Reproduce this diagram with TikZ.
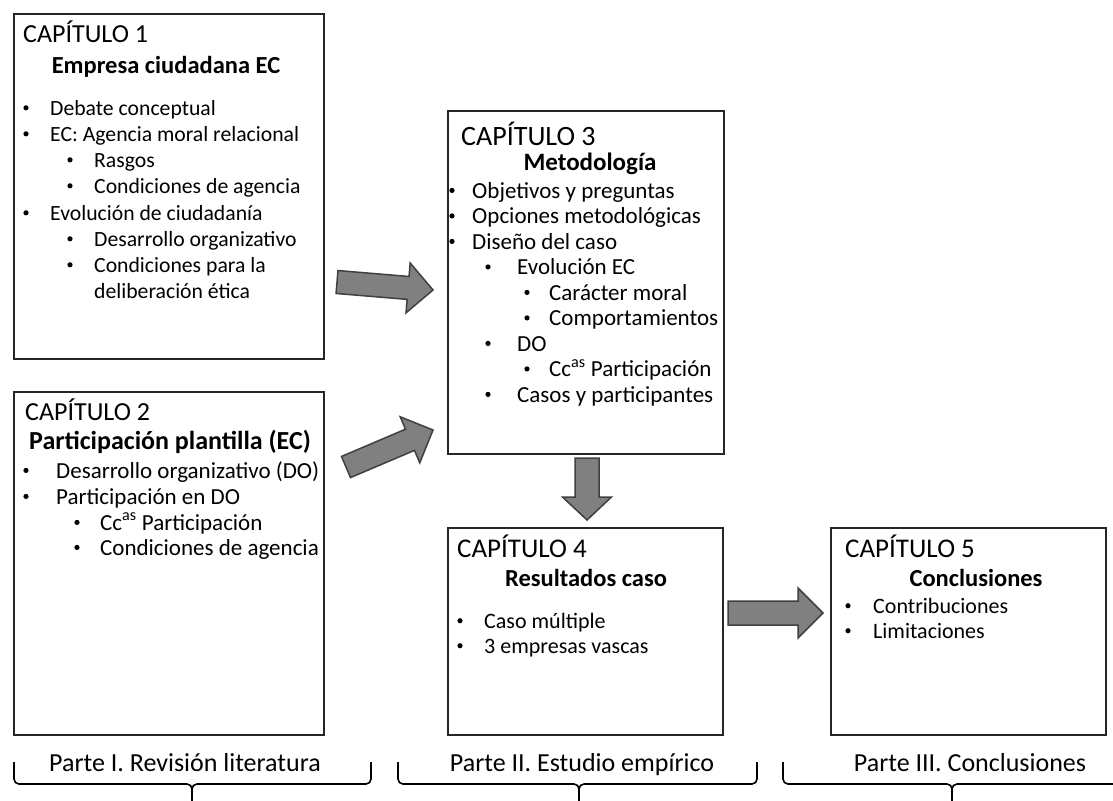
\documentclass[tikz,border=0pt]{standalone}
\usepackage{fontspec}
\setmainfont{Carlito}
\usetikzlibrary{calc}

\newcounter{ln}
\newcommand{\fs}[1]{\fontsize{#1}{#1}\selectfont}

\tikzset{
  box/.style={draw=black!85, line width=1.6pt, fill=white, rectangle,
    inner sep=0pt, anchor=north west},
  blk/.style={fill={rgb,255:red,128;green,128;blue,128},
    draw={rgb,255:red,64;green,64;blue,64}, line width=1.5pt, line join=miter},
  brace/.style={draw=black, line width=1.6pt, rounded corners=5pt},
  txt/.style={inner sep=0pt, text=black},
  dot/.style={circle, fill=black, inner sep=0pt, minimum size=5.2pt},
}

% chapter frame: name, left, top, width, height
\newcommand{\chapbox}[5]{\node[box, minimum width=#4pt, minimum height=#5pt] (#1) at (#2,#3) {};}

% bulleted line: size, bullet x, text x, baseline y, text
\newcommand{\itm}[5]{%
  \stepcounter{ln}\edef\lnname{\arabic{ln}}%
  \node[dot] (b\lnname) at (#2,#4-0.33*#1) {};
  \node[txt, anchor=base west] (t\lnname) at (#3,#4) {\fs{#1}#5};}

% block arrow from tail to tip: tail, tip, half shaft, half head, head length
\newcommand{\blockarrow}[5]{%
  \coordinate (#1h) at ($(#2)!#5!(#1)$);
  \draw[blk] ($(#1)!#3!90:(#2)$) -- ($(#1h)!#3!90:(#2)$) -- ($(#1h)!#4!90:(#2)$)
    -- (#2) -- ($(#1h)!#4!-90:(#2)$) -- ($(#1h)!#3!-90:(#2)$)
    -- ($(#1)!#3!-90:(#2)$) -- cycle;}

\begin{document}
\begin{tikzpicture}[x=1pt,y=-1pt]
\useasboundingbox (0,0) rectangle (1113,800);
\fill[white] (0,0) rectangle (1113,800);

% chapter frames
\chapbox{ch1}{13}{13}{310}{345}
\chapbox{ch2}{13}{391}{310}{343}
\chapbox{ch3}{447}{110}{276}{343}
\chapbox{ch4}{447}{527}{275}{207}
\chapbox{ch5}{830}{527}{275}{207}

% Chapter 1
\node[txt, anchor=base west] (h1) at (23,43) {\fs{26}CAPÍTULO 1};
\node[txt, anchor=base] (s1) at (166,74) {\fs{24.5}\bfseries Empresa ciudadana EC};
\itm{21.7}{26}{50}{115}{Debate conceptual}
\itm{21.7}{26}{50}{141}{EC: Agencia moral relacional}
\itm{21.7}{70}{94}{167}{Rasgos}
\itm{21.7}{70}{94}{193}{Condiciones de agencia}
\itm{21.7}{26}{50}{220}{Evolución de ciudadanía}
\itm{21.7}{70}{94}{246}{Desarrollo organizativo}
\itm{21.7}{70}{94}{272}{Condiciones para la}
\node[txt, anchor=base west] (t1x) at (94,298) {\fs{21.7}deliberación ética};

% Chapter 2
\node[txt, anchor=base west] (h2) at (25,420) {\fs{26}CAPÍTULO 2};
\node[txt, anchor=base] (s2) at (170,449) {\fs{26}\bfseries Participación plantilla (EC)};
\itm{23}{26}{56}{478}{Desarrollo organizativo (DO)}
\itm{23}{26}{56}{504}{Participación en DO}
\itm{23}{77}{100}{530}{Cc\textsuperscript{as} Participación}
\itm{23}{77}{100}{555}{Condiciones de agencia}

% Chapter 3
\node[txt, anchor=base west] (h3) at (461,145) {\fs{28}CAPÍTULO 3};
\node[txt, anchor=base] (s3) at (590,170) {\fs{25}\bfseries Metodología};
\itm{23}{452}{472}{198}{Objetivos y preguntas}
\itm{23}{452}{472}{223.5}{Opciones metodológicas}
\itm{23}{452}{472}{249}{Diseño del caso}
\itm{23}{488}{517}{274.5}{Evolución EC}
\itm{23}{527}{549}{300}{Carácter moral}
\itm{23}{527}{549}{325.5}{Comportamientos}
\itm{23}{488}{517}{351}{DO}
\itm{23}{527}{549}{376.5}{Cc\textsuperscript{as} Participación}
\itm{23}{488}{517}{402}{Casos y participantes}

% Chapter 4
\node[txt, anchor=base west] (h4) at (457,557) {\fs{27}CAPÍTULO 4};
\node[txt, anchor=base] (s4) at (586,586) {\fs{24.5}\bfseries Resultados caso};
\itm{22}{460}{484}{628}{Caso múltiple}
\itm{22}{460}{484}{653}{3 empresas vascas}

% Chapter 5
\node[txt, anchor=base west] (h5) at (845,557) {\fs{27}CAPÍTULO 5};
\node[txt, anchor=base] (s5) at (976,586) {\fs{24.5}\bfseries Conclusiones};
\itm{22}{848}{873}{613}{Contribuciones}
\itm{22}{848}{873}{638}{Limitaciones}

% block arrows between chapters
\coordinate (a1t) at (337,282); \coordinate (a1e) at (433,290);
\coordinate (a2t) at (346,467); \coordinate (a2e) at (433,430);
\coordinate (a3t) at (587,458); \coordinate (a3e) at (587,520);
\coordinate (a4t) at (728,613); \coordinate (a4e) at (823,613);
\blockarrow{a1t}{a1e}{11.5pt}{25pt}{25pt}
\blockarrow{a2t}{a2e}{11.5pt}{25pt}{25pt}
\blockarrow{a3t}{a3e}{12pt}{24.5pt}{23pt}
\blockarrow{a4t}{a4e}{12pt}{25pt}{25pt}

% parts with braces
\node[txt, anchor=base] (p1) at (185,771) {\fs{26}Parte I. Revisión literatura};
\node[txt, anchor=base] (p2) at (582,771) {\fs{26}Parte II. Estudio empírico};
\node[txt, anchor=base] (p3) at (970,771) {\fs{26}Parte III. Conclusiones};

\draw[brace] (14,762) |- (192,784) -- (192,810);
\draw[brace] (371,762) |- (192,784) -- (192,810);
\draw[brace] (398,762) |- (579,784) -- (579,810);
\draw[brace] (757,762) |- (579,784) -- (579,810);
\draw[brace] (783,762) |- (952,784) -- (952,810);
\draw[brace] (1121,762) |- (952,784) -- (952,810);
\end{tikzpicture}
\end{document}
